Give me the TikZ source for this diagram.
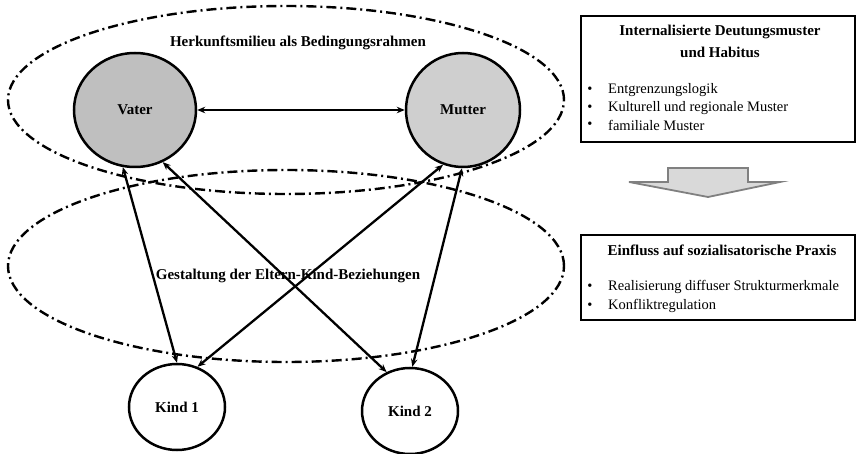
\documentclass[tikz,border=0pt]{standalone}
\usepackage{fontspec}
\setmainfont{Liberation Serif}
\usetikzlibrary{shapes.geometric,arrows.meta}
\definecolor{vaterfill}{RGB}{191,191,191}
\definecolor{mutterfill}{RGB}{207,207,207}
\definecolor{arrowfill}{RGB}{217,217,217}
\definecolor{arrowline}{RGB}{128,128,128}
\begin{document}
\begin{tikzpicture}[x=1pt,y=-1pt,
  person/.style={ellipse,draw,line width=2.5pt,inner sep=0pt,
    font=\fontsize{15}{17}\selectfont\bfseries},
  milieu/.style={ellipse,draw,line width=2.4pt,inner sep=0pt,
    dash pattern=on 10pt off 4pt on 2pt off 4pt},
  rel/.style={line width=2.3pt,
    {Stealth[length=8pt,width=6.5pt]}-{Stealth[length=8pt,width=6.5pt]}},
  infobox/.style={draw,line width=2.6pt,inner sep=0pt,minimum width=274pt},
  heading/.style={inner sep=0pt,font=\fontsize{15}{17}\selectfont\bfseries},
  bullet/.style={inner sep=0pt,font=\fontsize{14.5}{17}\selectfont},
  item/.style={inner sep=0pt,anchor=west,font=\fontsize{14.5}{17}\selectfont}]
\useasboundingbox (0,0) rectangle (857,454);

% the two framing ellipses
\node[milieu,minimum width=556pt,minimum height=188pt] (herkunft) at (286,100) {};
\node[milieu,minimum width=556pt,minimum height=192pt] (gestaltung) at (286,266) {};
\node[heading] (herkunftlabel) at (298,43) {Herkunftsmilieu als Bedingungsrahmen};
\node[heading] (gestaltunglabel) at (288,276) {Gestaltung der Eltern-Kind-Beziehungen};

% parents and children
\node[person,fill=vaterfill,minimum width=122pt,minimum height=114pt] (vater) at (135,110) {Vater};
\node[person,fill=mutterfill,minimum width=114pt,minimum height=114pt] (mutter) at (463,110) {Mutter};
\node[person,fill=white,minimum width=96pt,minimum height=86pt] (kind1) at (177,407) {Kind 1};
\node[person,fill=white,minimum width=96pt,minimum height=86pt] (kind2) at (410,411) {Kind 2};

% relations
\draw[rel] (vater.east) -- (mutter.west);
\draw[rel] (vater.258) -- (kind1.90);
\draw[rel] (vater.298) -- (kind2.121);
\draw[rel] (mutter.250) -- (kind1.63);
\draw[rel] (mutter.269) -- (kind2.87);

% first info box
\node[infobox,minimum height=126pt] (deutung) at (718,79) {};
\node[heading] (deutungtitle1) at (720,32) {Internalisierte Deutungsmuster};
\node[heading] (deutungtitle2) at (720,52) {und Habitus};
\node[bullet] (db1) at (590,90) {•};
\node[item] (di1) at (608,90) {Entgrenzungslogik};
\node[bullet] (db2) at (590,108) {•};
\node[item] (di2) at (608,108) {Kulturell und regionale Muster};
\node[bullet] (db3) at (590,125) {•};
\node[item] (di3) at (608,125) {familiale Muster};

% block arrow between the boxes
\draw[fill=arrowfill,draw=arrowline,line width=1.8pt,line join=miter]
  (668,168) -- (748,168) -- (748,182) -- (780,182) -- (708,197)
  -- (629,182) -- (668,182) -- cycle;

% second info box
\node[infobox,minimum height=85pt] (einfluss) at (718,277.5) {};
\node[heading] (einflusstitle) at (722,250) {Einfluss auf sozialisatorische Praxis};
\node[bullet] (eb1) at (590,287) {•};
\node[item] (ei1) at (608,287) {Realisierung diffuser Strukturmerkmale};
\node[bullet] (eb2) at (590,306) {•};
\node[item] (ei2) at (608,306) {Konfliktregulation};
\end{tikzpicture}
\end{document}
